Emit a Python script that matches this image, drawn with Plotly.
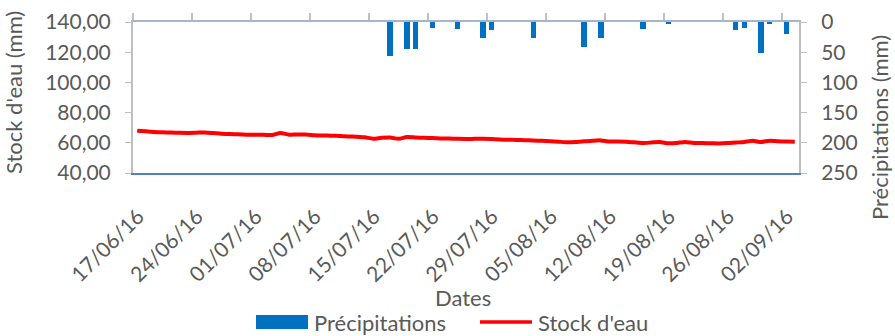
import pandas as pd
import plotly.graph_objects as go

# Daily water stock (mm), one value per day from 17/06/16 to 03/09/16
start_date = "2016-06-17"
stock = [
    68.0, 67.6, 67.2, 67.0, 66.8, 66.6, 66.5, 66.7, 66.9, 66.5,
    66.0, 65.8, 65.6, 65.4, 65.3, 65.3, 65.2, 66.5, 65.4, 65.5,
    65.5, 65.0, 64.8, 64.7, 64.5, 64.2, 64.0, 63.6, 62.7, 63.3,
    63.5, 62.6, 63.8, 63.5, 63.3, 63.1, 62.9, 62.8, 62.6, 62.5,
    62.6, 62.7, 62.5, 62.2, 62.0, 61.9, 61.7, 61.6, 61.3, 61.0,
    60.7, 60.4, 60.6, 61.0, 61.4, 61.6, 60.8, 60.9, 60.7, 60.3,
    59.9, 60.2, 60.5, 59.7, 59.9, 60.6, 59.9, 59.8, 59.7, 59.6,
    59.8, 60.2, 60.5, 61.3, 60.5, 61.4, 61.0, 60.8, 60.7,
]

# Rain events (mm)
rain_dates = [
    "2016-07-17", "2016-07-19", "2016-07-20", "2016-07-22", "2016-07-25",
    "2016-07-28", "2016-07-29", "2016-08-03", "2016-08-09", "2016-08-11",
    "2016-08-16", "2016-08-19", "2016-08-27", "2016-08-28", "2016-08-30",
    "2016-08-31", "2016-09-02",
]
rain = [57, 45, 45, 10, 12, 26, 13, 26, 41, 26, 12, 3, 14, 10, 51, 3, 20]

# Weekly date labels
tick_labels = [
    "17/06/16", "24/06/16", "01/07/16", "08/07/16", "15/07/16", "22/07/16",
    "29/07/16", "05/08/16", "12/08/16", "19/08/16", "26/08/16", "02/09/16",
]

series_names = ["Précipitations", "Stock d'eau"]

DAY = pd.Timedelta(days=1)
HALF = pd.Timedelta(hours=12)

stock_x = pd.date_range(start_date, periods=len(stock), freq="D") + HALF
rain_x = pd.to_datetime(rain_dates) + HALF
tick_x = pd.to_datetime(tick_labels, format="%d/%m/%y")
x_range = [pd.Timestamp(start_date), pd.Timestamp(start_date) + len(stock) * DAY]

TEXT = "#595959"
AXIS = "#BFBFBF"
BLUE = "#0070C0"
RED = "#FF0000"
FONT = "Lato"
TICK_SIZE = 21
LABEL_SIZE = 22

W, H = 895, 336
L, R, T, B = 133, 96, 22, 163
PW, PH = W - L - R, H - T - B


def px_x(p):
    """pixel column -> paper x"""
    return (p - L) / PW


def px_y(p):
    """pixel row -> paper y"""
    return (H - B - p) / PH


fig = go.Figure()

fig.add_trace(go.Bar(
    x=rain_x, y=rain, name=series_names[0],
    marker=dict(color=BLUE, line=dict(width=0)),
    width=0.63 * 86400000, yaxis="y2", xaxis="x", showlegend=False,
))

fig.add_trace(go.Scatter(
    x=stock_x, y=stock, name=series_names[1], mode="lines",
    line=dict(color=RED, width=4, shape="spline", smoothing=0.6),
    yaxis="y", xaxis="x", showlegend=False,
))

# empty trace so the top (tick-mark) axis is drawn
fig.add_trace(go.Scatter(x=[x_range[0]], y=[None], xaxis="x2", yaxis="y",
                         showlegend=False, hoverinfo="skip"))

fig.update_layout(
    width=W, height=H,
    margin=dict(l=L, r=R, t=T, b=B, autoexpand=False),
    paper_bgcolor="white", plot_bgcolor="white",
    separators=", ",
    font=dict(family=FONT, size=LABEL_SIZE, color=TEXT),
    showlegend=False,
    bargap=0,
    xaxis=dict(
        type="date", range=x_range, automargin=False,
        tickmode="array", tickvals=tick_x, ticktext=tick_labels,
        tickangle=-45, showgrid=False, zeroline=False,
        showline=True, linecolor="#4F81BD", linewidth=2,
        ticks="", tickfont=dict(size=TICK_SIZE, color=TEXT),
        ticklabelstandoff=21, ticklabelshift=5,
    ),
    xaxis2=dict(
        type="date", range=x_range, overlaying="x", side="top", automargin=False,
        tickmode="array", tickvals=tick_x, showticklabels=False,
        ticks="outside", ticklen=7, tickcolor=AXIS, tickwidth=1.5,
        showline=True, linecolor="#A7B5CC", linewidth=2,
        showgrid=False, zeroline=False, anchor="y",
    ),
    yaxis=dict(
        range=[40, 140], dtick=20, tick0=40, tickformat=".2f", automargin=False,
        showgrid=False, zeroline=False,
        showline=True, linecolor=AXIS, linewidth=2,
        ticks="outside", ticklen=6, tickcolor=AXIS,
        tickfont=dict(size=TICK_SIZE, color=TEXT), ticklabelstandoff=10,
    ),
    yaxis2=dict(
        range=[250, 0], dtick=50, overlaying="y", side="right", anchor="x",
        automargin=False, showgrid=False, zeroline=False,
        showline=True, linecolor=AXIS, linewidth=2,
        ticks="outside", ticklen=6, tickcolor=AXIS,
        tickfont=dict(size=TICK_SIZE, color=TEXT), ticklabelstandoff=10,
    ),
)

# axis titles
fig.add_annotation(text="Stock d'eau (mm)", textangle=-90, showarrow=False,
                   xref="paper", yref="paper", x=px_x(13), y=px_y(93),
                   xanchor="center", yanchor="middle",
                   font=dict(size=LABEL_SIZE, color=TEXT))
fig.add_annotation(text="Précipitations (mm)", textangle=-90, showarrow=False,
                   xref="paper", yref="paper", x=px_x(879), y=px_y(128),
                   xanchor="center", yanchor="middle",
                   font=dict(size=LABEL_SIZE, color=TEXT))
fig.add_annotation(text="Dates", showarrow=False,
                   xref="paper", yref="paper", x=px_x(463), y=px_y(297),
                   xanchor="center", yanchor="middle",
                   font=dict(size=LABEL_SIZE, color=TEXT))

# legend: blue block for the bars, red stroke for the line
LEG_Y = 322
fig.add_shape(type="rect", xref="paper", yref="paper",
              x0=px_x(256), x1=px_x(308), y0=px_y(LEG_Y + 7), y1=px_y(LEG_Y - 7),
              fillcolor=BLUE, line=dict(width=0))
fig.add_annotation(text=series_names[0], showarrow=False, xref="paper", yref="paper",
                   x=px_x(312), y=px_y(LEG_Y), xanchor="left", yanchor="middle",
                   font=dict(size=LABEL_SIZE, color=TEXT))
fig.add_shape(type="line", xref="paper", yref="paper",
              x0=px_x(480), x1=px_x(532), y0=px_y(LEG_Y), y1=px_y(LEG_Y),
              line=dict(color=RED, width=3.5))
fig.add_annotation(text=series_names[1], showarrow=False, xref="paper", yref="paper",
                   x=px_x(536), y=px_y(LEG_Y), xanchor="left", yanchor="middle",
                   font=dict(size=LABEL_SIZE, color=TEXT))

fig.write_html("out.html")
